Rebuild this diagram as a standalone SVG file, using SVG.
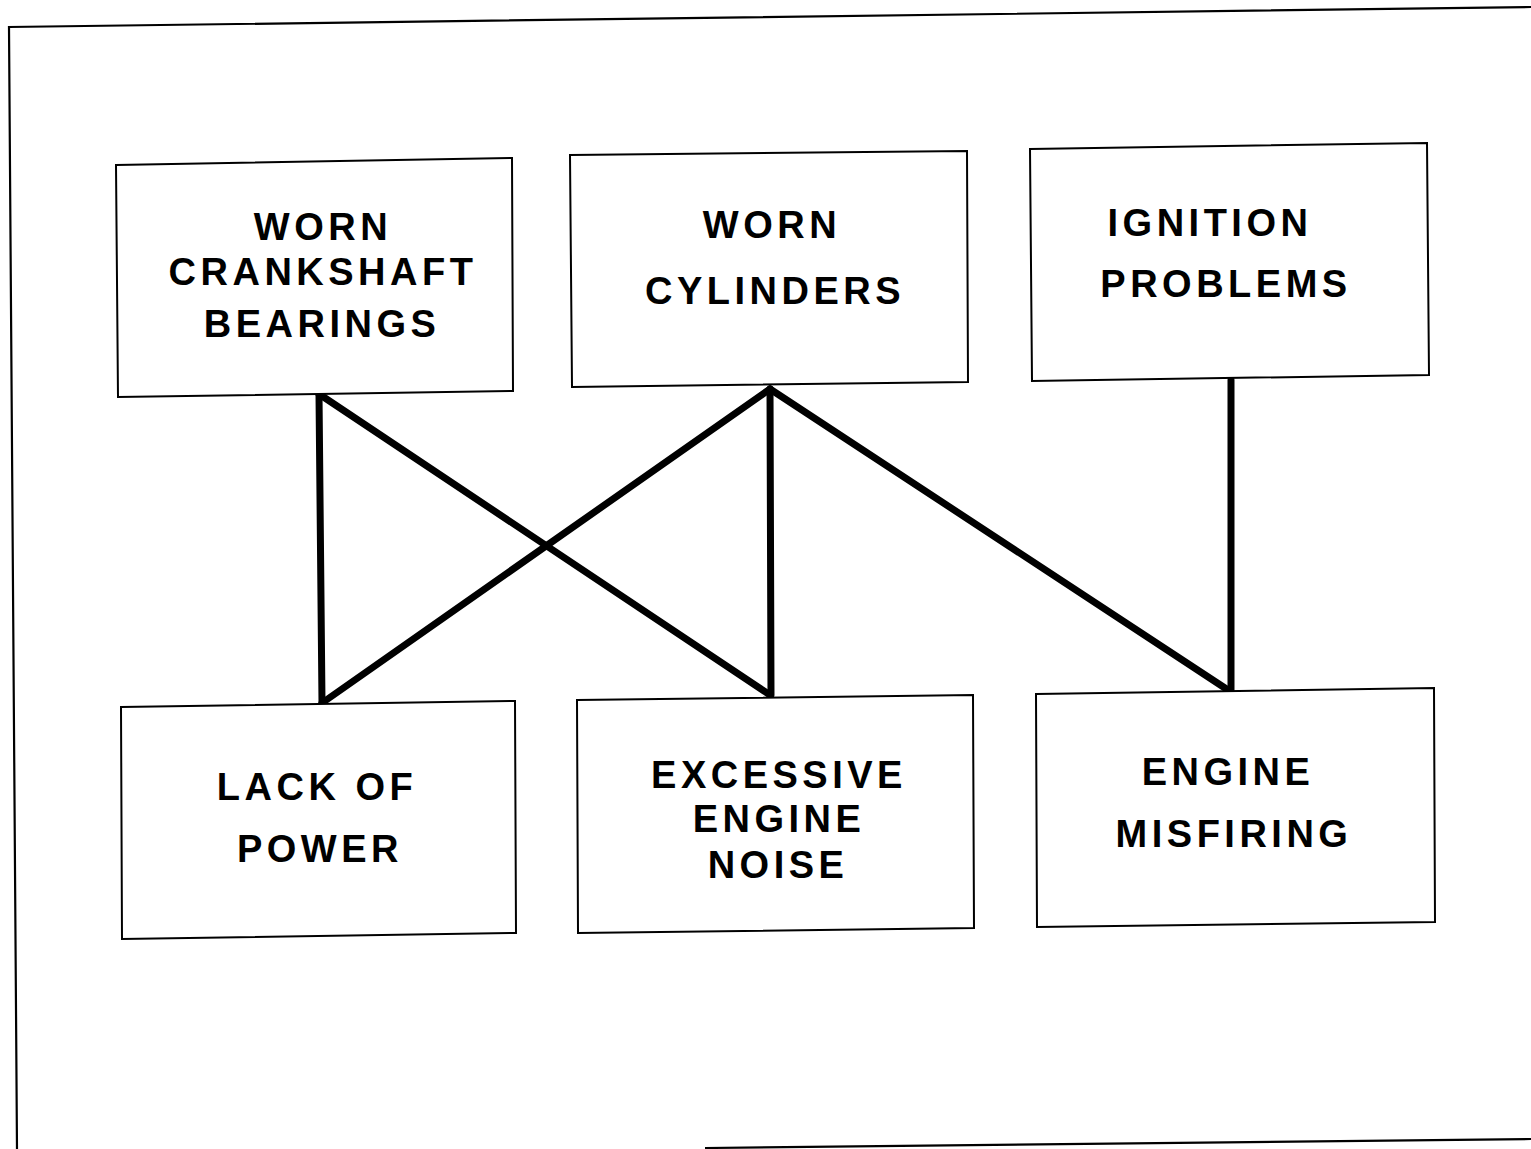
<svg xmlns="http://www.w3.org/2000/svg" width="1531" height="1149" viewBox="0 0 1531 1149">
  <style>
    .frame { fill: none; stroke: #000; stroke-width: 2.2; }
    .box { fill: #fff; stroke: #000; stroke-width: 2; stroke-linejoin: miter; }
    .label { font-family: "Liberation Sans", Arial, sans-serif; font-weight: bold; font-size: 38px; letter-spacing: 4.5px; fill: #000; text-anchor: middle; }
    .link { stroke: #000; stroke-width: 7; stroke-linecap: round; fill: none; }
  </style>
  <rect width="1531" height="1149" fill="#fff"/>

  <!-- page frame -->
  <g id="frame">
    <polyline class="frame" points="1531,7 9,27 17,1149"/>
    <line class="frame" x1="705" y1="1148" x2="1531" y2="1139"/>
  </g>

  <!-- connectors between causes and symptoms -->
  <g id="connectors">
    <line class="link" x1="319" y1="394" x2="322" y2="703"/>
    <line class="link" x1="319" y1="394" x2="770" y2="695"/>
    <line class="link" x1="770" y1="389" x2="322" y2="703"/>
    <line class="link" x1="770" y1="389" x2="771" y2="695"/>
    <line class="link" x1="770" y1="389" x2="1228" y2="690"/>
    <line class="link" x1="1231" y1="380" x2="1231" y2="690"/>
  </g>

  <g id="worn-crankshaft-bearings">
    <polygon class="box" points="116,165 512,158 513,391 118,397"/>
    <text class="label" x="323" y="240">WORN</text>
    <text class="label" x="323" y="285">CRANKSHAFT</text>
    <text class="label" x="322" y="337">BEARINGS</text>
  </g>

  <g id="worn-cylinders">
    <polygon class="box" points="570,155 967,151 968,382 572,387"/>
    <text class="label" x="772" y="238">WORN</text>
    <text class="label" x="775" y="304">CYLINDERS</text>
  </g>

  <g id="ignition-problems">
    <polygon class="box" points="1030,149 1427,143 1429,375 1032,381"/>
    <text class="label" x="1210" y="236">IGNITION</text>
    <text class="label" x="1226" y="297">PROBLEMS</text>
  </g>

  <g id="lack-of-power">
    <polygon class="box" points="121,707 515,701 516,933 122,939"/>
    <text class="label" x="317" y="800">LACK OF</text>
    <text class="label" x="320" y="862">POWER</text>
  </g>

  <g id="excessive-engine-noise">
    <polygon class="box" points="577,700 973,695 974,928 578,933"/>
    <text class="label" x="779" y="788">EXCESSIVE</text>
    <text class="label" x="779" y="832">ENGINE</text>
    <text class="label" x="778" y="878">NOISE</text>
  </g>

  <g id="engine-misfiring">
    <polygon class="box" points="1036,694 1434,688 1435,922 1037,927"/>
    <text class="label" x="1228" y="785">ENGINE</text>
    <text class="label" x="1234" y="847">MISFIRING</text>
  </g>
</svg>
